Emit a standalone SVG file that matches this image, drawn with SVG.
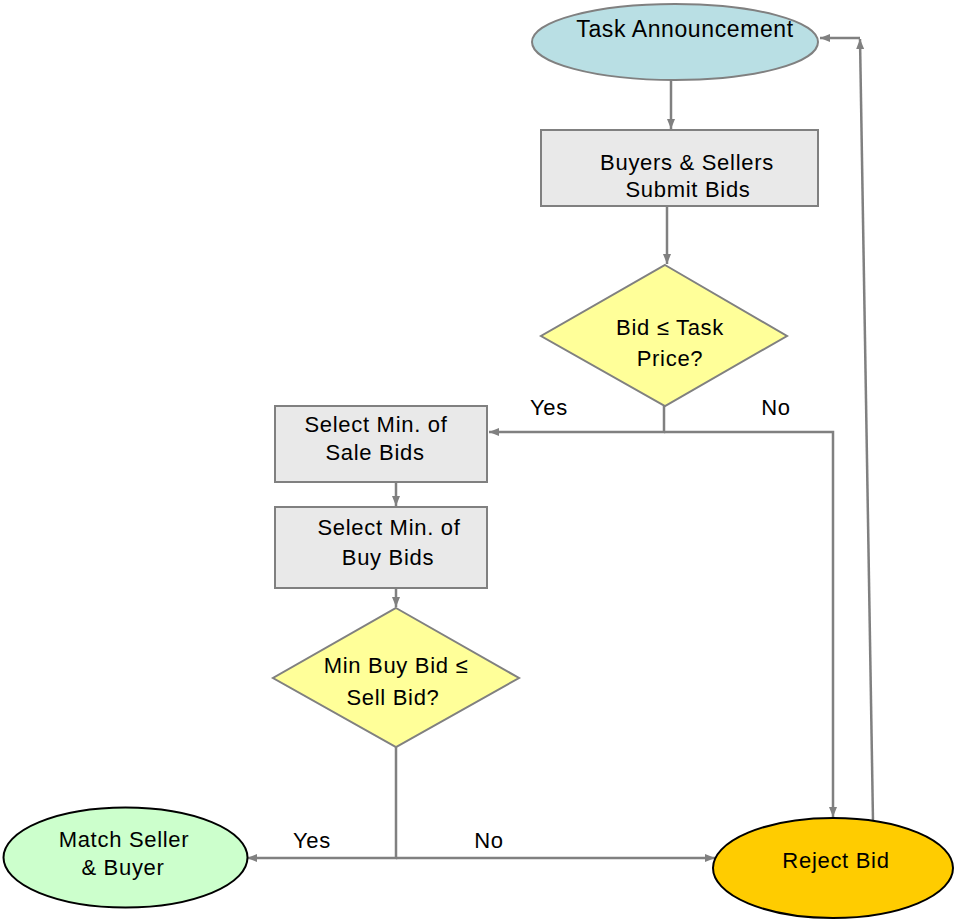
<svg xmlns="http://www.w3.org/2000/svg" width="955" height="920" viewBox="0 0 955 920">
<defs>
<marker id="arr" markerWidth="11" markerHeight="9" refX="10" refY="4.5" orient="auto" markerUnits="userSpaceOnUse">
<path d="M0,0.5 L10,4.5 L0,8.5 z" fill="#808080"/>
</marker>
</defs>
<style>
text{font-family:"Liberation Sans",Arial,sans-serif;font-size:22px;fill:#000;text-anchor:middle;letter-spacing:0.7px}
.conn{fill:none;stroke:#808080;stroke-width:2.5}
.box{fill:#e9e9e9;stroke:#808080;stroke-width:2}
.dia{fill:#ffff99;stroke:#808080;stroke-width:2}
.term{stroke:#000;stroke-width:2}
</style>
<rect width="955" height="920" fill="#fff"/>
<g id="connectors">
<line class="conn" x1="671" y1="80" x2="671" y2="129" marker-end="url(#arr)"/>
<line class="conn" x1="667" y1="206" x2="667" y2="264" marker-end="url(#arr)"/>
<polyline class="conn" points="664,406 664,432 489,432" marker-end="url(#arr)"/>
<polyline class="conn" points="664,432 833,432 833,817" marker-end="url(#arr)"/>
<line class="conn" x1="396" y1="482" x2="396" y2="506" marker-end="url(#arr)"/>
<line class="conn" x1="396" y1="588" x2="396" y2="607" marker-end="url(#arr)"/>
<polyline class="conn" points="396,747 396,858 247,858" marker-end="url(#arr)"/>
<polyline class="conn" points="396,858 715,858" marker-end="url(#arr)"/>
<line class="conn" x1="873" y1="821" x2="860" y2="39" marker-end="url(#arr)"/>
<line class="conn" x1="860" y1="38" x2="820" y2="38" marker-end="url(#arr)"/>
<text x="549" y="415">Yes</text>
<text x="776" y="415">No</text>
<text x="312" y="848">Yes</text>
<text x="489" y="848">No</text>
</g>
<g id="task-announcement">
<ellipse cx="675" cy="42" rx="143" ry="38" fill="#b9dfe4" stroke="#808080" stroke-width="2"/>
<text x="685" y="37" style="font-size:23px;letter-spacing:0.6px">Task Announcement</text>
</g>
<g id="submit-bids">
<rect class="box" x="541" y="130" width="277" height="76"/>
<text x="687" y="170">Buyers &amp; Sellers</text>
<text x="688" y="197">Submit Bids</text>
</g>
<g id="bid-check">
<polygon class="dia" points="665,265 787,336 665,406 541,336"/>
<text x="670" y="335">Bid ≤ Task</text>
<text x="670" y="366">Price?</text>
</g>
<g id="select-sale">
<rect class="box" x="275" y="406" width="212" height="76"/>
<text x="376" y="432">Select Min. of</text>
<text x="375" y="460">Sale Bids</text>
</g>
<g id="select-buy">
<rect class="box" x="275" y="507" width="212" height="81"/>
<text x="389" y="535">Select Min. of</text>
<text x="388" y="565">Buy Bids</text>
</g>
<g id="min-check">
<polygon class="dia" points="396,608 519,678 396,747 273,678"/>
<text x="396" y="673">Min Buy Bid ≤</text>
<text x="393" y="705">Sell Bid?</text>
</g>
<g id="match">
<ellipse class="term" cx="125.5" cy="857.5" rx="122" ry="50" fill="#ccffcc"/>
<text x="124" y="847">Match Seller</text>
<text x="123" y="875">&amp; Buyer</text>
</g>
<g id="reject">
<ellipse class="term" cx="833" cy="868" rx="120" ry="50" fill="#ffcc00"/>
<text x="836" y="868">Reject Bid</text>
</g>
</svg>
